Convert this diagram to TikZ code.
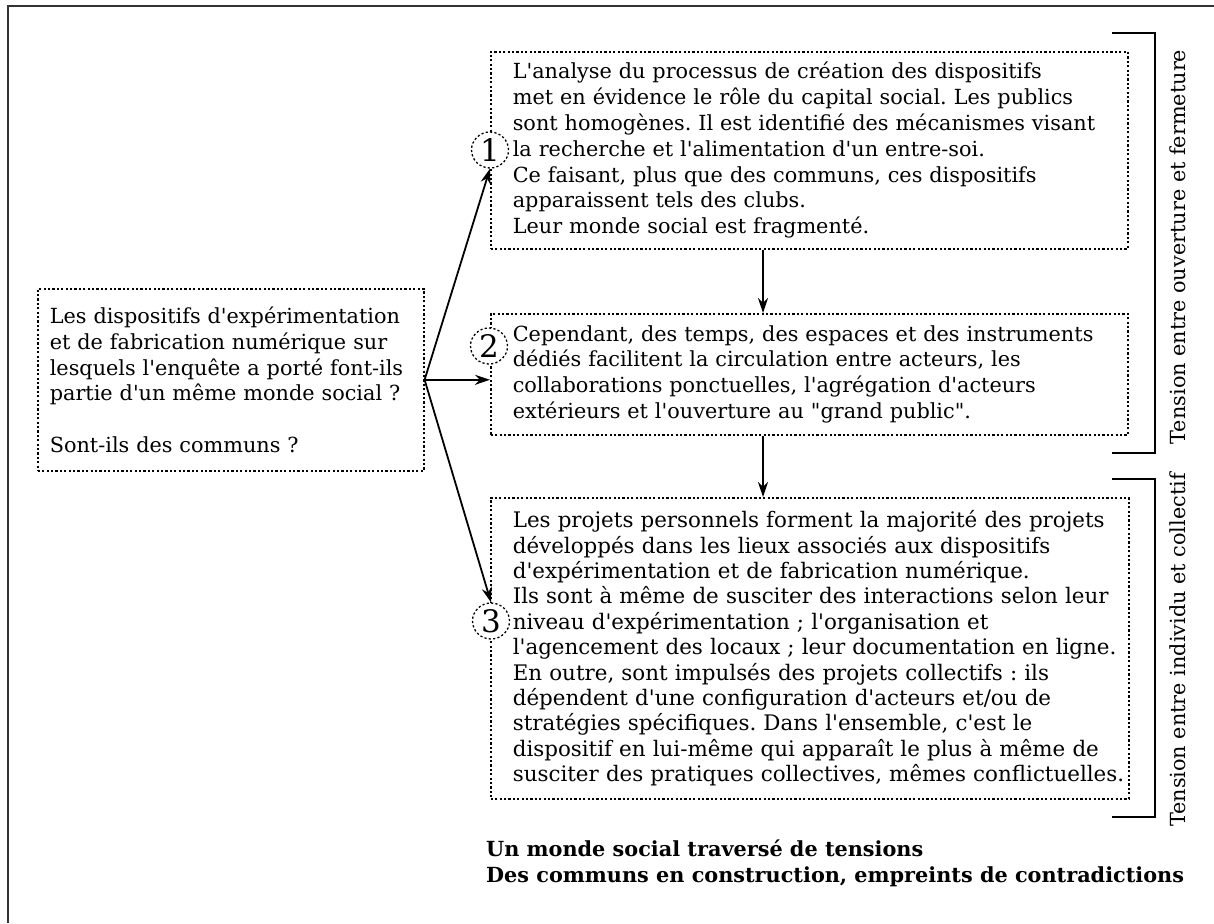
\documentclass[tikz,border=0pt]{standalone}
\usepackage{fontspec}
\setmainfont{DejaVu Serif}[Ligatures=TeXOff]
\usetikzlibrary{arrows.meta,shapes.geometric}
\begin{document}
\frenchspacing
\begin{tikzpicture}[x=1pt,y=-1pt,
  txt/.style={font=\fontsize{20.8}{25.8}\selectfont},
  box/.style={draw, line width=1.6pt, dash pattern=on 2.2pt off 2.2pt, align=left, inner ysep=0pt, txt, anchor=north west},
  num/.style={ellipse, draw, line width=1.3pt, dash pattern=on 2.2pt off 2.2pt, fill=white, inner sep=0pt, font=\fontsize{31}{31}\selectfont, minimum width=37pt, minimum height=36pt},
  arr/.style={-{Stealth[length=15pt,width=10pt]}, line width=1.8pt},
  brk/.style={line width=2pt},
  lab/.style={txt, rotate=90}
]
\useasboundingbox (0,0) rectangle (1214,923);
\fill[white] (0,0) rectangle (1214,923);
% outer frame
\draw[line width=1.8pt, black!80] (8,923) -- (8,6) -- (1214,6);

% boxes
\node[box, minimum width=386pt, minimum height=182pt, text width=362pt, inner xsep=12pt] (b0) at (37,288)
{Les dispositifs d'expérimentation\\
et de fabrication numérique sur\\
lesquels l'enquête a porté font-ils\\
partie d'un même monde social ?\\[25.8pt]
Sont-ils des communs ?};

\node[box, minimum width=637pt, minimum height=197pt, text width=593pt, inner xsep=22pt] (b1) at (490,51)
{L'analyse du processus de création des dispositifs\\
met en évidence le rôle du capital social. Les publics\\
sont homogènes. Il est identifié des mécanismes visant\\
la recherche et l'alimentation d'un entre-soi.\\
Ce faisant, plus que des communs, ces dispositifs\\
apparaissent tels des clubs.\\
Leur monde social est fragmenté.};

\node[box, minimum width=637pt, minimum height=121pt, text width=593pt, inner xsep=22pt] (b2) at (490,313)
{Cependant, des temps, des espaces et des instruments\\
dédiés facilitent la circulation entre acteurs, les\\
collaborations ponctuelles, l'agrégation d'acteurs\\
extérieurs et l'ouverture au "grand public".};

\node[box, minimum width=638pt, minimum height=301pt, text width=594pt, inner xsep=22pt, font=\fontsize{21.4}{25.4}\selectfont] (b3) at (490,497)
{\mbox{Les projets personnels forment la majorité des projets}\\
\mbox{développés dans les lieux associés aux dispositifs}\\
\mbox{d'expérimentation et de fabrication numérique.}\\
\mbox{Ils sont à même de susciter des interactions selon leur}\\
\mbox{niveau d'expérimentation ; l'organisation et}\\
\mbox{l'agencement des locaux ; leur documentation en ligne.}\\
\mbox{En outre, sont impulsés des projets collectifs : ils}\\
\mbox{dépendent d'une configuration d'acteurs et/ou de}\\
\mbox{stratégies spécifiques. Dans l'ensemble, c'est le}\\
\mbox{dispositif en lui-même qui apparaît le plus à même de}\\
\mbox{susciter des pratiques collectives, mêmes conflictuelles.}};

% numbered circles
\node[num] (c1) at (490,150) {1};
\node[num] (c2) at (489,346) {2};
\node[num] (c3) at (491,621) {3};

% arrows
\coordinate (xa) at (763,0);
\draw[arr] (b0.east) -- (c1.south);
\draw[arr] (b0.east) -- (b0.east -| b2.west);
\draw[arr] (b0.east) -- (c3.north);
\draw[arr] (b1.south -| xa) -- (b2.north -| xa);
\draw[arr] (b2.south -| xa) -- (b3.north -| xa);

% brackets
\draw[brk] (1112,33) -- (1155,33) -- (1155,453) -- (1112,453);
\draw[brk] (1112,479) -- (1155,479) -- (1155,817) -- (1112,817);
\node[lab] (l1) at (1178,247) {Tension entre ouverture et fermeture};
\node[lab] (l2) at (1178,650) {Tension entre individu et collectif};

% title
\node[anchor=north west, align=left, inner sep=0pt, font=\fontsize{20.8}{25.8}\selectfont\bfseries] (t) at (486,840)
{Un monde social traversé de tensions\\
Des communs en construction, empreints de contradictions};
\end{tikzpicture}
\end{document}
